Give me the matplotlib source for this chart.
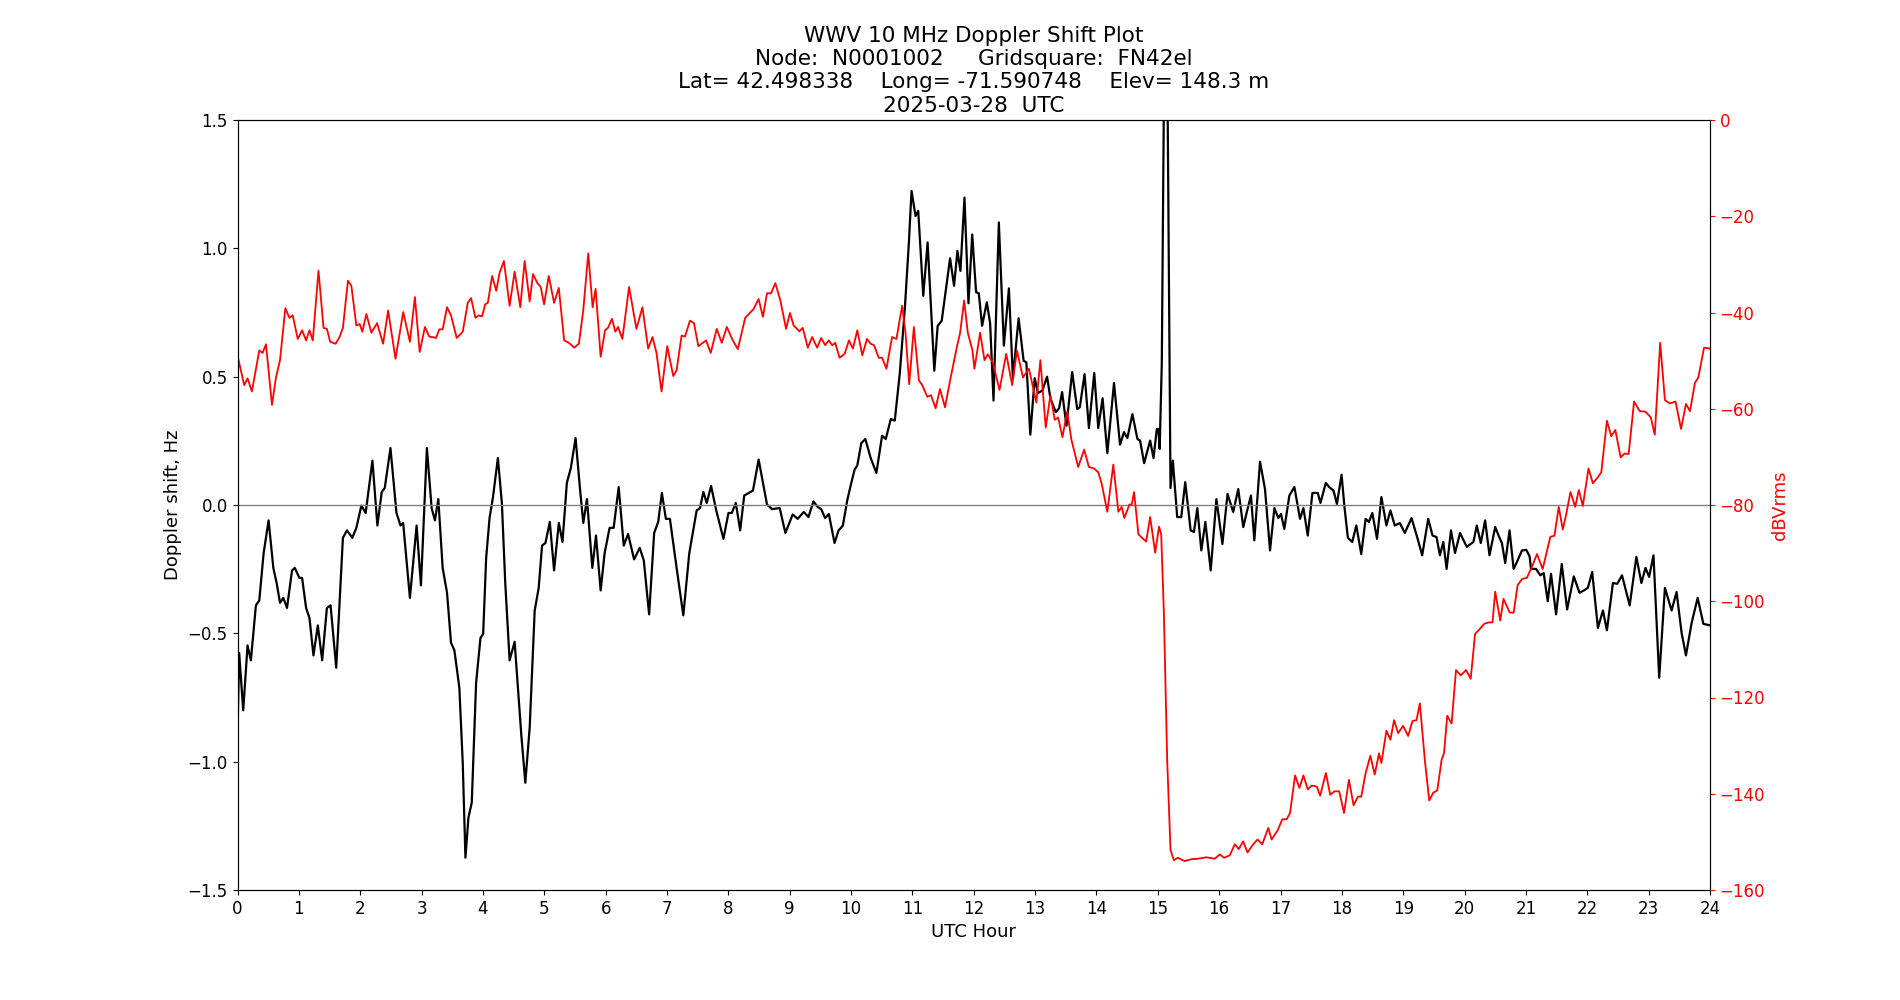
import numpy as np
import matplotlib
matplotlib.use("Agg")
import matplotlib.pyplot as plt

# Doppler shift (Hz) vs UTC hour
dop_hour = [
    0.000, 0.027, 0.093, 0.164, 0.218, 0.300, 0.355, 0.426, 0.507, 0.584,
    0.638, 0.693, 0.747, 0.807, 0.889, 0.933, 1.009, 1.053, 1.118, 1.173,
    1.238, 1.309, 1.380, 1.457, 1.517, 1.609, 1.718, 1.784, 1.871, 1.937,
    2.019, 2.089, 2.199, 2.280, 2.351, 2.400, 2.493, 2.591, 2.657, 2.700,
    2.810, 2.919, 2.990, 3.087, 3.164, 3.218, 3.273, 3.344, 3.415, 3.480,
    3.535, 3.616, 3.671, 3.715, 3.764, 3.818, 3.889, 3.960, 4.004, 4.053,
    4.108, 4.162, 4.244, 4.309, 4.364, 4.435, 4.517, 4.571, 4.626, 4.691,
    4.762, 4.844, 4.909, 4.964, 5.019, 5.090, 5.160, 5.237, 5.297, 5.368,
    5.433, 5.510, 5.581, 5.636, 5.696, 5.783, 5.843, 5.919, 5.984, 6.065,
    6.131, 6.213, 6.295, 6.366, 6.464, 6.556, 6.622, 6.709, 6.791, 6.857,
    6.917, 6.982, 7.048, 7.157, 7.266, 7.364, 7.484, 7.539, 7.593, 7.648,
    7.719, 7.800, 7.920, 8.002, 8.057, 8.122, 8.193, 8.259, 8.401, 8.494,
    8.630, 8.712, 8.837, 8.930, 9.049, 9.131, 9.229, 9.306, 9.387, 9.458,
    9.513, 9.578, 9.638, 9.731, 9.797, 9.867, 9.938, 10.004, 10.058, 10.102,
    10.167, 10.233, 10.320, 10.413, 10.506, 10.566, 10.648, 10.713, 10.795, 10.877,
    10.942, 10.986, 11.051, 11.095, 11.177, 11.248, 11.357, 11.412, 11.478, 11.532,
    11.614, 11.679, 11.734, 11.783, 11.849, 11.914, 11.975, 12.038, 12.082, 12.136,
    12.213, 12.267, 12.322, 12.409, 12.491, 12.573, 12.638, 12.731, 12.813, 12.857,
    12.922, 12.993, 13.047, 13.118, 13.195, 13.249, 13.337, 13.391, 13.440, 13.511,
    13.604, 13.686, 13.729, 13.806, 13.877, 13.964, 14.029, 14.100, 14.177, 14.286,
    14.384, 14.449, 14.504, 14.586, 14.668, 14.711, 14.777, 14.875, 14.930, 14.984,
    15.010, 15.030, 15.065, 15.130, 15.207, 15.245, 15.316, 15.382, 15.447, 15.535,
    15.589, 15.644, 15.709, 15.775, 15.862, 15.955, 16.053, 16.136, 16.229, 16.311,
    16.393, 16.447, 16.518, 16.573, 16.666, 16.747, 16.829, 16.900, 16.964, 17.007,
    17.062, 17.144, 17.226, 17.318, 17.373, 17.444, 17.520, 17.607, 17.651, 17.738,
    17.793, 17.864, 17.919, 17.995, 18.044, 18.098, 18.169, 18.235, 18.316, 18.387,
    18.442, 18.496, 18.573, 18.644, 18.726, 18.791, 18.862, 18.944, 19.026, 19.135,
    19.227, 19.309, 19.407, 19.478, 19.543, 19.598, 19.653, 19.707, 19.778, 19.844,
    19.926, 20.035, 20.144, 20.199, 20.264, 20.335, 20.406, 20.499, 20.570, 20.608,
    20.662, 20.733, 20.799, 20.853, 20.935, 21.006, 21.060, 21.082, 21.164, 21.235,
    21.289, 21.355, 21.409, 21.491, 21.584, 21.671, 21.780, 21.873, 21.944, 22.009,
    22.080, 22.173, 22.255, 22.320, 22.418, 22.489, 22.566, 22.691, 22.800, 22.882,
    22.948, 23.008, 23.079, 23.172, 23.265, 23.374, 23.455, 23.537, 23.608, 23.701,
    23.799, 23.892, 24.000,
]
dop_hz = [
    -0.890, -0.576, -0.800, -0.547, -0.605, -0.391, -0.372, -0.187, -0.060, -0.245,
    -0.304, -0.381, -0.362, -0.401, -0.255, -0.245, -0.284, -0.284, -0.401, -0.440,
    -0.586, -0.469, -0.605, -0.401, -0.391, -0.634, -0.128, -0.099, -0.128, -0.089,
    -0.002, -0.031, 0.173, -0.080, 0.051, 0.066, 0.222, -0.031, -0.080, -0.070,
    -0.362, -0.080, -0.313, 0.222, -0.012, -0.060, 0.023, -0.245, -0.342, -0.537,
    -0.566, -0.712, -1.004, -1.374, -1.218, -1.160, -0.693, -0.518, -0.502, -0.206,
    -0.051, 0.027, 0.183, 0.008, -0.304, -0.605, -0.533, -0.712, -0.897, -1.082,
    -0.868, -0.411, -0.323, -0.158, -0.148, -0.066, -0.255, -0.070, -0.144, 0.086,
    0.144, 0.261, 0.066, -0.070, 0.023, -0.245, -0.119, -0.333, -0.187, -0.089,
    -0.089, 0.070, -0.158, -0.113, -0.212, -0.167, -0.216, -0.426, -0.109, -0.066,
    0.047, -0.054, -0.054, -0.245, -0.430, -0.187, -0.021, -0.012, 0.051, 0.008,
    0.074, -0.018, -0.132, -0.031, -0.031, 0.008, -0.099, 0.037, 0.056, 0.177,
    0.002, -0.016, -0.012, -0.109, -0.037, -0.054, -0.027, -0.047, 0.014, -0.008,
    -0.016, -0.051, -0.035, -0.148, -0.099, -0.080, 0.018, 0.086, 0.138, 0.154,
    0.241, 0.257, 0.183, 0.125, 0.270, 0.257, 0.335, 0.329, 0.514, 0.767,
    1.019, 1.224, 1.126, 1.146, 0.815, 1.023, 0.523, 0.698, 0.718, 0.815,
    0.961, 0.854, 0.990, 0.912, 1.198, 0.786, 1.054, 0.829, 0.825, 0.698,
    0.790, 0.708, 0.407, 1.101, 0.621, 0.844, 0.494, 0.728, 0.562, 0.556,
    0.274, 0.494, 0.436, 0.446, 0.500, 0.416, 0.362, 0.377, 0.440, 0.309,
    0.518, 0.374, 0.381, 0.510, 0.300, 0.514, 0.300, 0.416, 0.202, 0.475,
    0.235, 0.284, 0.261, 0.354, 0.257, 0.251, 0.163, 0.251, 0.183, 0.296,
    0.296, 0.218, 0.553, 2.500, 0.066, 0.173, -0.047, -0.047, 0.089, -0.099,
    -0.105, -0.012, -0.177, -0.066, -0.255, 0.023, -0.152, 0.043, -0.027, 0.062,
    -0.086, -0.031, 0.037, -0.138, 0.169, 0.062, -0.177, -0.012, -0.051, -0.035,
    -0.093, 0.037, 0.070, -0.054, -0.012, -0.119, 0.047, 0.047, 0.008, 0.086,
    0.070, 0.056, 0.004, 0.118, -0.012, -0.128, -0.144, -0.080, -0.191, -0.054,
    -0.066, -0.031, -0.132, 0.031, -0.080, -0.021, -0.080, -0.070, -0.109, -0.051,
    -0.125, -0.196, -0.054, -0.119, -0.125, -0.196, -0.144, -0.249, -0.099, -0.187,
    -0.109, -0.163, -0.144, -0.080, -0.148, -0.060, -0.196, -0.086, -0.128, -0.148,
    -0.226, -0.099, -0.249, -0.222, -0.177, -0.175, -0.200, -0.249, -0.249, -0.274,
    -0.265, -0.375, -0.268, -0.426, -0.230, -0.407, -0.278, -0.342, -0.333, -0.323,
    -0.261, -0.479, -0.411, -0.488, -0.304, -0.307, -0.274, -0.391, -0.202, -0.304,
    -0.245, -0.280, -0.196, -0.673, -0.323, -0.411, -0.339, -0.498, -0.586, -0.459,
    -0.362, -0.463, -0.469,
]

# received level (dBVrms) vs UTC hour
db_hour = [
    0.000, 0.109, 0.164, 0.235, 0.355, 0.409, 0.464, 0.562, 0.627, 0.693,
    0.780, 0.846, 0.900, 0.982, 1.053, 1.118, 1.173, 1.227, 1.320, 1.402,
    1.457, 1.511, 1.598, 1.664, 1.718, 1.800, 1.855, 1.937, 1.991, 2.035,
    2.100, 2.182, 2.275, 2.373, 2.455, 2.575, 2.701, 2.810, 2.891, 2.970,
    3.055, 3.125, 3.180, 3.235, 3.289, 3.344, 3.415, 3.480, 3.573, 3.671,
    3.753, 3.807, 3.878, 3.933, 3.987, 4.037, 4.080, 4.151, 4.217, 4.271,
    4.342, 4.435, 4.517, 4.609, 4.680, 4.762, 4.817, 4.888, 4.942, 4.997,
    5.073, 5.160, 5.237, 5.324, 5.401, 5.488, 5.564, 5.635, 5.717, 5.788,
    5.837, 5.919, 5.990, 6.038, 6.104, 6.158, 6.202, 6.273, 6.382, 6.502,
    6.600, 6.693, 6.764, 6.829, 6.911, 7.004, 7.102, 7.157, 7.238, 7.293,
    7.375, 7.440, 7.511, 7.637, 7.713, 7.811, 7.893, 7.975, 8.073, 8.155,
    8.275, 8.411, 8.493, 8.564, 8.630, 8.696, 8.766, 8.848, 8.941, 9.005,
    9.065, 9.158, 9.213, 9.295, 9.366, 9.447, 9.513, 9.578, 9.638, 9.693,
    9.742, 9.813, 9.895, 9.966, 10.031, 10.102, 10.184, 10.260, 10.320, 10.375,
    10.451, 10.506, 10.577, 10.669, 10.740, 10.833, 10.888, 10.948, 11.024, 11.106,
    11.160, 11.242, 11.302, 11.379, 11.450, 11.532, 11.624, 11.723, 11.778, 11.843,
    11.903, 11.979, 12.011, 12.104, 12.175, 12.229, 12.311, 12.420, 12.529, 12.627,
    12.704, 12.802, 12.900, 13.020, 13.086, 13.173, 13.249, 13.320, 13.375, 13.446,
    13.522, 13.593, 13.702, 13.800, 13.877, 13.959, 14.029, 14.084, 14.177, 14.275,
    14.357, 14.411, 14.455, 14.537, 14.575, 14.613, 14.684, 14.766, 14.810, 14.875,
    14.957, 15.020, 15.055, 15.098, 15.153, 15.207, 15.262, 15.327, 15.436, 15.546,
    15.655, 15.791, 15.927, 16.009, 16.080, 16.173, 16.255, 16.320, 16.391, 16.462,
    16.555, 16.626, 16.702, 16.800, 16.855, 16.953, 17.029, 17.100, 17.155, 17.237,
    17.308, 17.373, 17.444, 17.509, 17.591, 17.646, 17.739, 17.810, 17.880, 17.957,
    18.035, 18.115, 18.191, 18.262, 18.316, 18.387, 18.464, 18.535, 18.606, 18.644,
    18.726, 18.791, 18.851, 18.917, 18.998, 19.080, 19.151, 19.217, 19.271, 19.353,
    19.424, 19.489, 19.555, 19.626, 19.664, 19.718, 19.789, 19.860, 19.937, 20.024,
    20.100, 20.171, 20.253, 20.319, 20.390, 20.455, 20.499, 20.581, 20.635, 20.733,
    20.799, 20.864, 20.935, 21.017, 21.099, 21.180, 21.273, 21.398, 21.464, 21.535,
    21.600, 21.655, 21.726, 21.802, 21.862, 21.927, 22.020, 22.091, 22.173, 22.228,
    22.320, 22.391, 22.457, 22.544, 22.609, 22.675, 22.762, 22.855, 22.948, 23.035,
    23.100, 23.188, 23.265, 23.346, 23.439, 23.528, 23.608, 23.674, 23.755, 23.810,
    23.903, 24.000,
]
db_level = [
    -48.9, -55.1, -53.7, -56.4, -47.9, -48.4, -46.6, -59.2, -53.5, -49.9,
    -39.1, -41.1, -40.6, -45.5, -43.7, -45.8, -43.7, -45.8, -31.3, -43.2,
    -43.4, -46.1, -46.5, -45.1, -43.2, -33.4, -34.4, -42.7, -42.4, -44.0,
    -40.3, -44.2, -42.2, -46.5, -39.6, -49.6, -39.9, -46.1, -36.8, -48.2,
    -43.0, -45.0, -45.1, -45.3, -43.5, -43.5, -38.9, -40.6, -45.3, -44.0,
    -38.0, -37.0, -41.1, -40.6, -40.8, -38.3, -38.0, -32.4, -35.5, -31.8,
    -29.3, -38.6, -31.5, -38.9, -29.3, -37.7, -32.0, -33.9, -34.7, -38.3,
    -32.4, -38.0, -34.9, -45.8, -46.3, -47.3, -46.5, -39.6, -27.7, -38.9,
    -35.1, -49.2, -43.7, -43.2, -41.3, -44.0, -43.0, -45.5, -34.7, -43.4,
    -38.9, -47.5, -45.1, -48.4, -56.4, -47.0, -53.2, -52.0, -44.8, -45.0,
    -41.7, -42.2, -47.0, -45.8, -48.4, -43.4, -46.3, -43.0, -45.8, -47.6,
    -41.1, -39.3, -37.2, -40.9, -36.0, -36.0, -33.9, -37.5, -43.4, -40.1,
    -42.7, -43.9, -43.2, -47.3, -45.1, -47.3, -45.3, -46.8, -45.8, -46.8,
    -46.3, -49.4, -48.6, -45.8, -47.5, -43.7, -48.9, -45.5, -46.5, -46.8,
    -49.4, -49.4, -51.7, -45.1, -45.5, -38.6, -44.2, -54.9, -43.0, -54.1,
    -55.1, -57.5, -57.2, -59.9, -55.9, -59.7, -53.5, -47.3, -44.2, -37.5,
    -44.2, -47.9, -51.7, -44.2, -49.9, -48.7, -50.4, -56.1, -48.6, -55.1,
    -47.9, -53.5, -51.7, -58.7, -49.9, -63.9, -57.2, -62.3, -61.8, -65.9,
    -60.6, -66.5, -72.1, -68.5, -72.1, -72.4, -73.2, -75.5, -81.4, -71.6,
    -81.4, -80.4, -82.7, -79.9, -79.9, -77.3, -86.1, -87.1, -87.6, -82.5,
    -89.9, -84.5, -86.1, -102.1, -133.1, -151.7, -153.8, -153.3, -154.0, -153.6,
    -153.5, -153.2, -153.5, -152.6, -153.3, -152.8, -150.5, -151.5, -149.9, -152.2,
    -150.5, -149.5, -150.5, -147.1, -149.5, -147.6, -145.3, -145.3, -144.0, -136.2,
    -138.8, -136.2, -139.1, -138.3, -138.5, -140.4, -135.7, -140.2, -139.5, -139.5,
    -144.0, -137.1, -142.4, -140.6, -140.6, -135.7, -132.1, -136.0, -131.6, -133.6,
    -126.9, -128.8, -124.7, -127.4, -125.9, -128.0, -124.9, -124.7, -121.2, -133.1,
    -141.4, -139.8, -139.3, -132.9, -131.6, -123.8, -125.4, -114.3, -115.4, -114.3,
    -116.1, -106.8, -105.7, -104.7, -104.4, -104.4, -98.0, -104.0, -99.5, -102.3,
    -102.4, -96.7, -95.4, -95.1, -92.8, -90.2, -93.3, -86.6, -86.4, -80.4,
    -85.1, -82.0, -77.3, -80.4, -76.9, -80.2, -72.4, -75.5, -74.2, -73.2,
    -62.5, -65.7, -64.4, -70.1, -69.3, -69.4, -58.5, -60.5, -60.6, -61.8,
    -65.4, -46.3, -58.2, -58.9, -58.5, -64.2, -59.0, -60.5, -54.6, -53.5,
    -47.3, -47.5,
]

title = ("WWV 10 MHz Doppler Shift Plot\n"
         "Node:  N0001002     Gridsquare:  FN42el\n"
         "Lat= 42.498338    Long= -71.590748    Elev= 148.3 m\n"
         "2025-03-28  UTC")

fig = plt.figure(figsize=(19, 10), dpi=100)
ax = fig.add_subplot(1, 1, 1)
ax.plot(dop_hour, dop_hz, color="black", linewidth=1.6, solid_joinstyle="round")
ax.axhline(0, color="gray", linewidth=1)
ax.set_xlim(0, 24)
ax.set_ylim(-1.5, 1.5)
ax.set_xticks(range(0, 25))
ax.set_xlabel("UTC Hour", fontsize=13)
ax.set_ylabel("Doppler shift, Hz", fontsize=13)
ax.tick_params(labelsize=12)
ax.set_title(title, fontsize=15.5)

ax2 = ax.twinx()
ax2.plot(db_hour, db_level, color="red", linewidth=1.3, solid_joinstyle="round")
ax2.set_ylim(-160, 0)
ax2.set_ylabel("dBVrms", color="red", fontsize=13)
ax2.tick_params(axis="y", colors="red", labelsize=12)

fig.savefig("out.png", dpi=100)
